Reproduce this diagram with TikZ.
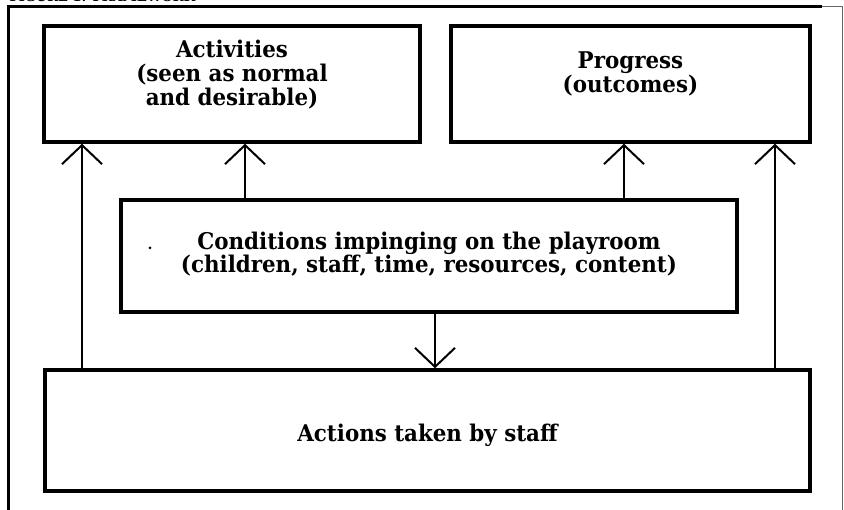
\documentclass[tikz,border=0pt]{standalone}
\usepackage{fontspec}
\setmainfont[FakeStretch=0.93]{DejaVu Serif}
\usetikzlibrary{arrows.meta,positioning}

\tikzset{
	box/.style={draw, line width=3.5pt, inner sep=0pt},
	txt/.style={align=center, font=\bfseries\fontsize{23}{24}\selectfont},
	arr/.style={line width=2pt, -{Straight Barb[length=19pt,width=40pt]}}
}

\begin{document}
\begin{tikzpicture}[x=1pt,y=-1pt]
	
	\useasboundingbox (0,0) rectangle (844,510);
	
	\node[anchor=base west, font=\bfseries\fontsize{14}{14}\selectfont] (title) at (6,2) {FIGURE 1: FRAMEWORK};
	
	\draw[line width=3pt] (8,520) -- (8,7) -- (822,7);
	\draw[line width=1pt, black!60] (822,7) -- (842,7) -- (842,520);
	
	\node[box, minimum width=376pt, minimum height=116pt] (act) at (232,84) {};
	\node[box, minimum width=359pt, minimum height=116pt] (prog) at (630.5,84) {};
	\node[box, minimum width=616pt, minimum height=112pt] (cond) at (429,256) {};
	\node[box, minimum width=765pt, minimum height=121pt] (staff) at (427.5,430.5) {};
	
	\node[txt] (acttxt) at ([yshift=9pt]act.center) {Activities\\(seen as normal\\and desirable)};
	\node[txt] (progtxt) at ([yshift=10pt]prog.center) {Progress\\(outcomes)};
	\node[txt, font=\bfseries\fontsize{23}{22}\selectfont] (condtxt) at ([yshift=2pt]cond.center) {Conditions impinging on the playroom\\(children, staff, time, resources, content)};
	\node[txt] (stafftxt) at ([yshift=-5pt]staff.center) {Actions taken by staff};
	
	\coordinate (xa) at (82,0);
	\coordinate (xb) at (245,0);
	\coordinate (xc) at (624,0);
	\coordinate (xd) at (775,0);
	\coordinate (xe) at (435,0);
	
	\draw[arr] (staff.north -| xa) -- (act.south -| xa);
	\draw[arr] (cond.north -| xb) -- (act.south -| xb);
	\draw[arr] (cond.north -| xc) -- (prog.south -| xc);
	\draw[arr] (staff.north -| xd) -- (prog.south -| xd);
	\draw[arr] (cond.south -| xe) -- (staff.north -| xe);
	
	\fill (150,248) circle (1.5pt);
	
\end{tikzpicture}
\end{document}
